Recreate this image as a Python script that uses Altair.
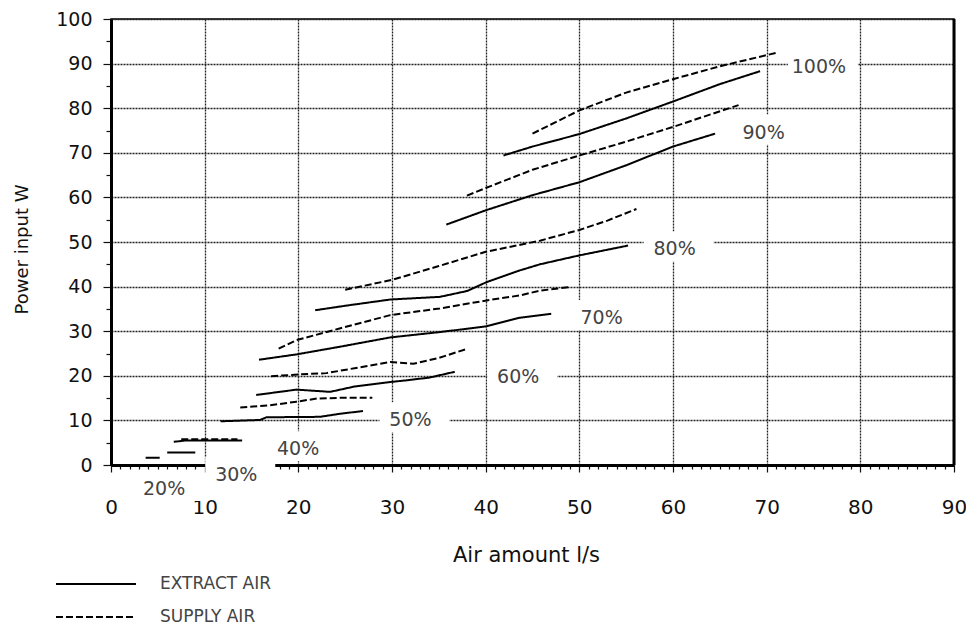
import altair as alt
import pandas as pd

# ---- data -------------------------------------------------------------
x_domain = [0, 90]
y_domain = [0, 100]

e100_x = [41.9, 45, 50, 55, 60, 65, 69.3]
e100_y = [69.4, 71.4, 74.2, 77.7, 81.5, 85.4, 88.3]
s100_x = [45, 50, 55, 60, 65, 71.2]
s100_y = [74.3, 79.5, 83.5, 86.5, 89.4, 92.5]

e90_x = [35.8, 40, 45, 50, 55, 60, 64.5]
e90_y = [53.9, 57.1, 60.5, 63.4, 67.2, 71.4, 74.3]
s90_x = [38, 40, 45, 50, 55, 60, 67]
s90_y = [60.4, 62.1, 66.2, 69.4, 72.5, 75.8, 80.7]

e80_x = [21.8, 25, 29.8, 35.1, 38, 40.1, 43.6, 45.8, 50, 55.2]
e80_y = [34.7, 35.7, 37.1, 37.7, 39.0, 41.0, 43.6, 45.0, 47.0, 49.2]
s80_x = [25, 30, 35, 40, 45.8, 50, 53, 56.1]
s80_y = [39.3, 41.5, 44.6, 47.8, 50.3, 52.7, 54.8, 57.4]

e70_x = [15.8, 19.8, 24.4, 29.8, 35.1, 40.1, 43.6, 47.0]
e70_y = [23.6, 24.8, 26.5, 28.6, 29.8, 31.1, 33.0, 33.9]
s70_x = [17.9, 19.8, 24.4, 29.8, 35.1, 40.1, 43.6, 45.8, 49.0]
s70_y = [26.1, 28.0, 30.6, 33.6, 35.1, 36.9, 38.0, 39.1, 39.9]

e60_x = [15.5, 19.8, 23.4, 26, 29.8, 31.6, 34, 36.7]
e60_y = [15.7, 16.9, 16.4, 17.6, 18.6, 19.0, 19.6, 20.9]
s60_x = [17.1, 20, 23.0, 26, 29.8, 32.3, 35, 37.8]
s60_y = [19.9, 20.3, 20.6, 21.7, 23.1, 22.7, 24.0, 25.9]

e50_x = [11.7, 15.9, 16.6, 22.3, 24.5, 26.9]
e50_y = [9.8, 10.1, 10.7, 10.8, 11.5, 12.1]
s50_x = [13.8, 17, 19.8, 22.0, 25, 27.9]
s50_y = [12.9, 13.4, 14.2, 14.9, 15.1, 15.1]

e40_x = [6.7, 8, 14.0]
e40_y = [5.2, 5.5, 5.5]
s40_x = [7.5, 13.5]
s40_y = [5.8, 5.8]

e30_x = [6.0, 9.0]
e30_y = [2.8, 2.8]

e20_x = [3.7, 5.2]
e20_y = [1.6, 1.6]

lbl_text = ["100%", "90%", "80%", "70%", "60%", "50%", "40%", "30%", "20%"]
lbl_x = [76.0, 70.1, 60.6, 52.8, 43.9, 32.4, 20.4, 13.8, 6.1]
lbl_y = [90.0, 75.2, 49.0, 33.6, 20.4, 10.7, 4.2, -1.6, -4.7]

types = ["EXTRACT AIR", "SUPPLY AIR"]

lines = [
    ("100%", types[0], e100_x, e100_y), ("100%", types[1], s100_x, s100_y),
    ("90%", types[0], e90_x, e90_y), ("90%", types[1], s90_x, s90_y),
    ("80%", types[0], e80_x, e80_y), ("80%", types[1], s80_x, s80_y),
    ("70%", types[0], e70_x, e70_y), ("70%", types[1], s70_x, s70_y),
    ("60%", types[0], e60_x, e60_y), ("60%", types[1], s60_x, s60_y),
    ("50%", types[0], e50_x, e50_y), ("50%", types[1], s50_x, s50_y),
    ("40%", types[0], e40_x, e40_y), ("40%", types[1], s40_x, s40_y),
    ("30%", types[0], e30_x, e30_y),
    ("20%", types[0], e20_x, e20_y),
]

rows = []
for pct, kind, xs, ys in lines:
    for x, y in zip(xs, ys):
        rows.append({"series": pct + " " + kind, "type": kind, "x": x, "y": y})
df = pd.DataFrame(rows)
labels = pd.DataFrame({"label": lbl_text, "x": lbl_x, "y": lbl_y})
border = pd.DataFrame({"x": [x_domain[1]]})

FONT = "DejaVu Sans"
xscale = alt.Scale(domain=x_domain, nice=False, zero=False)
yscale = alt.Scale(domain=y_domain, nice=False)

major10 = "datum.value % 10 === 0"

xaxis = alt.Axis(
    title="Air amount l/s",
    values=list(range(0, 91)),
    labelExpr=f"{major10} ? datum.label : ''",
    labelOverlap=False, labelFlush=False,
    labelFont=FONT, labelFontSize=20, labelColor="#111", labelPadding=25,
    tickSize={"condition": {"test": major10, "value": 7}, "value": 4},
    tickColor="#111", tickWidth=1.2,
    domainColor="black", domainWidth=3,
    grid=True, gridColor="#222", gridDash=[2, 1], gridWidth=1.3,
    gridOpacity={"condition": {"test": major10, "value": 1}, "value": 0},
    titleFont=FONT, titleFontSize=21, titleFontWeight="normal", titleColor="#111",
    titleX=415, titleY=90, titleBaseline="middle", titleAlign="center",
)
yaxis = alt.Axis(
    title="Power input W",
    values=list(range(0, 101, 5)),
    labelExpr=f"{major10} ? datum.label : ''",
    labelOverlap=False, labelFlush=False,
    labelFont=FONT, labelFontSize=19, labelColor="#111", labelPadding=11,
    tickSize={"condition": {"test": major10, "value": 8}, "value": 5},
    tickColor="#111", tickWidth=1.2,
    domainColor="black", domainWidth=3,
    grid=True, gridColor="#222", gridDash=[2, 1], gridWidth=1.3,
    gridOpacity={"condition": {"test": major10, "value": 1}, "value": 0},
    titleFont=FONT, titleFontSize=18, titleFontWeight="normal", titleColor="#111",
    titleX=-89, titleY=230, titleAngle=270, titleBaseline="middle", titleAlign="center",
)

X = alt.X("x:Q", scale=xscale, axis=xaxis)
Y = alt.Y("y:Q", scale=yscale, axis=yaxis)

boxes = alt.Chart(labels).mark_point(
    shape="M-1,-0.43H1V0.43H-1Z", size=4900, filled=True, color="white", opacity=1, strokeWidth=0
).encode(x=X, y=Y)

curves = alt.Chart(df).mark_line(color="black", strokeWidth=2).encode(
    x=X,
    y=Y,
    detail="series:N",
    strokeDash=alt.StrokeDash(
        "type:N",
        scale=alt.Scale(domain=types, range=[[1, 0], [7, 3]]),
        legend=alt.Legend(
            title=None, orient="none", legendX=-26, legendY=554, padding=0,
            symbolType="M-4,0H4", symbolSize=400, symbolStrokeWidth=2,
            symbolStrokeColor="black", labelOffset=53, rowPadding=14,
            labelFont=FONT, labelFontSize=17, labelColor="#444",
        ),
    ),
)

texts = alt.Chart(labels).mark_text(
    font=FONT, fontSize=19, color="#444", dx=-4, dy=3, align="center", baseline="middle"
).encode(x=X, y=Y, text="label:N")

right_border = alt.Chart(border).mark_rule(color="black", strokeWidth=3).encode(x=X)

chart = alt.layer(boxes, curves, texts, right_border).properties(
    width=843, height=446,
    autosize=alt.AutoSizeParams(type="none"),
    padding={"left": 103, "top": 11, "right": 12, "bottom": 161},
    background="white",
).configure_view(stroke="black", strokeWidth=1.5)

chart.save("out.html", embed_options={"renderer": "svg", "actions": False})
